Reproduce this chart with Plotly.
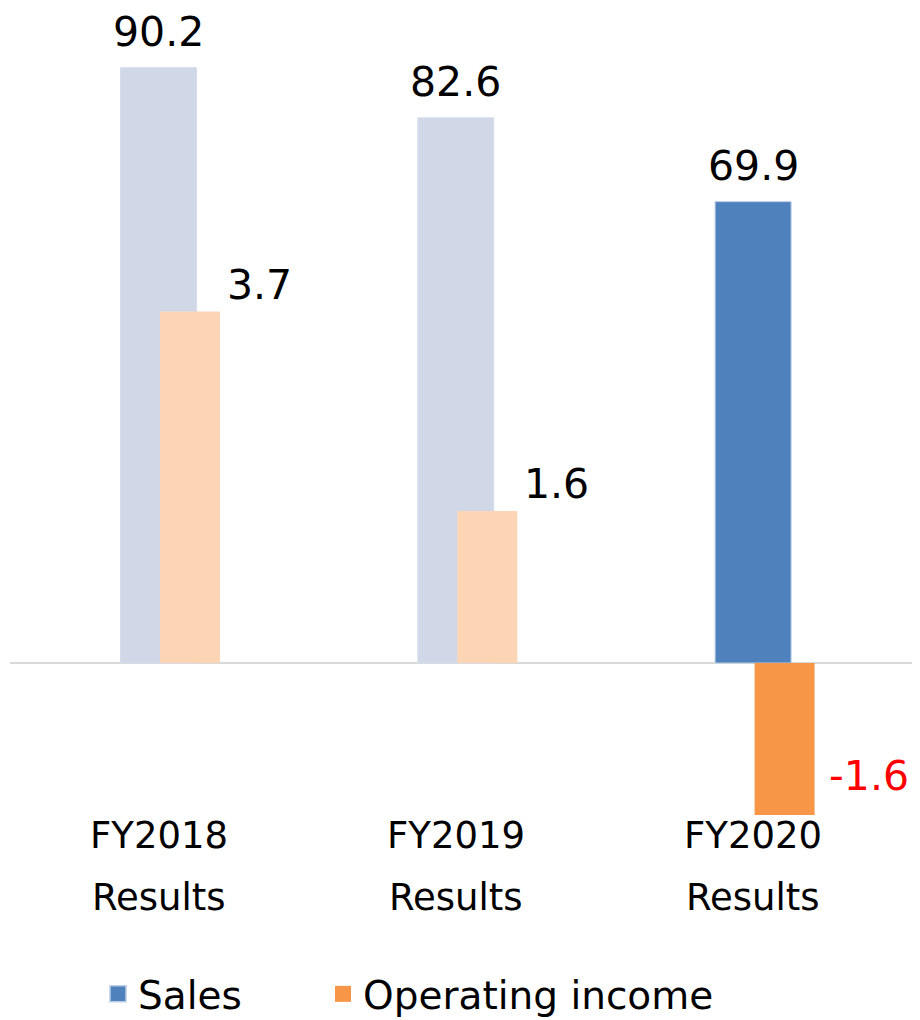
import plotly.graph_objects as go

cat_line1 = ["FY2018", "FY2019", "FY2020"]
cat_line2 = ["Results", "Results", "Results"]
sales = [90.2, 82.6, 69.9]
op_income = [3.7, 1.6, -1.6]

sales_colors = ["#D0D8E8", "#D0D8E8", "#4F81BD"]
sales_line_colors = ["#D6DDEA", "#D6DDEA", "#B9CDE5"]
income_colors = ["#FCD5B5", "#FCD5B5", "#F79646"]
income_label_colors = ["#000000", "#000000", "#FF0000"]

FONT = "DejaVu Sans"
BODY = 8  # default page margin offset (screen = figure + 8)
W, H = 920 - BODY, 1040
# layout constants in figure pixel coordinates
PLOT_TOP, PLOT_BOTTOM, PLOT_LEFT, PLOT_RIGHT = 0, 814, 2, W
ZERO_Y = 655
SALES_PX = 6.6      # px per unit (sales)
INCOME_PX = 95.0    # px per unit (operating income)

plot_h = PLOT_BOTTOM - PLOT_TOP
plot_w = PLOT_RIGHT - PLOT_LEFT
y1_range = [-(PLOT_BOTTOM - ZERO_Y) / SALES_PX, (ZERO_Y - PLOT_TOP) / SALES_PX]
y2_range = [-(PLOT_BOTTOM - ZERO_Y) / INCOME_PX, (ZERO_Y - PLOT_TOP) / INCOME_PX]

spacing = 297.3
first_center = 158.5 - BODY
x0 = -(first_center - PLOT_LEFT) / spacing
x_range = [x0, x0 + plot_w / spacing]

xs = list(range(len(sales)))
sales_w = 0.2556
inc_off = 0.005
inc_w = 0.2018

def px_x(screen_x):
    return (screen_x - BODY - PLOT_LEFT) / plot_w

def px_y(screen_y):
    return (PLOT_BOTTOM - (screen_y - BODY)) / plot_h

fig = go.Figure()
fig.add_trace(go.Bar(
    x=xs, y=sales, width=sales_w, offset=-sales_w / 2,
    marker=dict(color=sales_colors, line=dict(color=sales_line_colors, width=1)),
    showlegend=False, yaxis="y", name="Sales",
))
fig.add_trace(go.Bar(
    x=xs, y=op_income, width=inc_w, offset=inc_off,
    marker=dict(color=income_colors, line=dict(width=0)),
    showlegend=False, yaxis="y2", name="Operating income",
))
# legend entries
fig.add_trace(go.Scatter(
    x=[None], y=[None], mode="markers", name="Sales", legend="legend",
    marker=dict(symbol="square", size=16, color="#4F81BD", line=dict(color="#B9CDE5", width=1.5)),
))
fig.add_trace(go.Scatter(
    x=[None], y=[None], mode="markers", name="Operating income", legend="legend2",
    marker=dict(symbol="square", size=16, color="#F79646", line=dict(width=0)),
))

annotations = []
for i, v in enumerate(sales):
    annotations.append(dict(
        x=xs[i], y=v, xref="x", yref="y", text=f"{v:.1f}", showarrow=False,
        xanchor="center", yanchor="middle", yshift=36,
        font=dict(family=FONT, size=41, color="#000000"),
    ))
for i, v in enumerate(op_income):
    annotations.append(dict(
        x=xs[i] + inc_off + inc_w, y=v, xref="x", yref="y2", text=f"{v:.1f}",
        showarrow=False, xanchor="left", yanchor="middle",
        xshift=5 if v >= 0 else 12, yshift=27 if v >= 0 else 39,
        font=dict(family=FONT, size=41, color=income_label_colors[i]),
    ))
for i in xs:
    annotations.append(dict(
        x=xs[i], y=px_y(835), xref="x", yref="paper",
        text=cat_line1[i], showarrow=False, xanchor="center", yanchor="middle",
        font=dict(family=FONT, size=37, color="#000000"),
    ))
    annotations.append(dict(
        x=xs[i], y=px_y(897), xref="x", yref="paper",
        text=cat_line2[i], showarrow=False, xanchor="center", yanchor="middle",
        font=dict(family=FONT, size=37, color="#000000"),
    ))

legend_common = dict(orientation="h", xanchor="left", yanchor="middle", y=px_y(994),
                     font=dict(family=FONT, size=39, color="#000000"),
                     itemsizing="trace", bgcolor="rgba(0,0,0,0)")

fig.update_layout(
    width=W, height=H,
    margin=dict(l=PLOT_LEFT, r=W - PLOT_RIGHT, t=PLOT_TOP, b=H - PLOT_BOTTOM, pad=0),
    paper_bgcolor="white", plot_bgcolor="white",
    barmode="overlay",
    font=dict(family=FONT, color="#000000"),
    xaxis=dict(range=x_range, showticklabels=False, showgrid=False, zeroline=False,
               showline=False, ticks="", fixedrange=True),
    yaxis=dict(range=y1_range, showticklabels=False, showgrid=False, zeroline=True,
               zerolinecolor="#D9D9D9", zerolinewidth=2, showline=False, ticks=""),
    yaxis2=dict(range=y2_range, overlaying="y", side="right", showticklabels=False,
                showgrid=False, zeroline=False, showline=False, ticks=""),
    legend=dict(x=px_x(98), **legend_common),
    legend2=dict(x=px_x(323), **legend_common),
    annotations=annotations,
)

fig.write_html("out.html")
